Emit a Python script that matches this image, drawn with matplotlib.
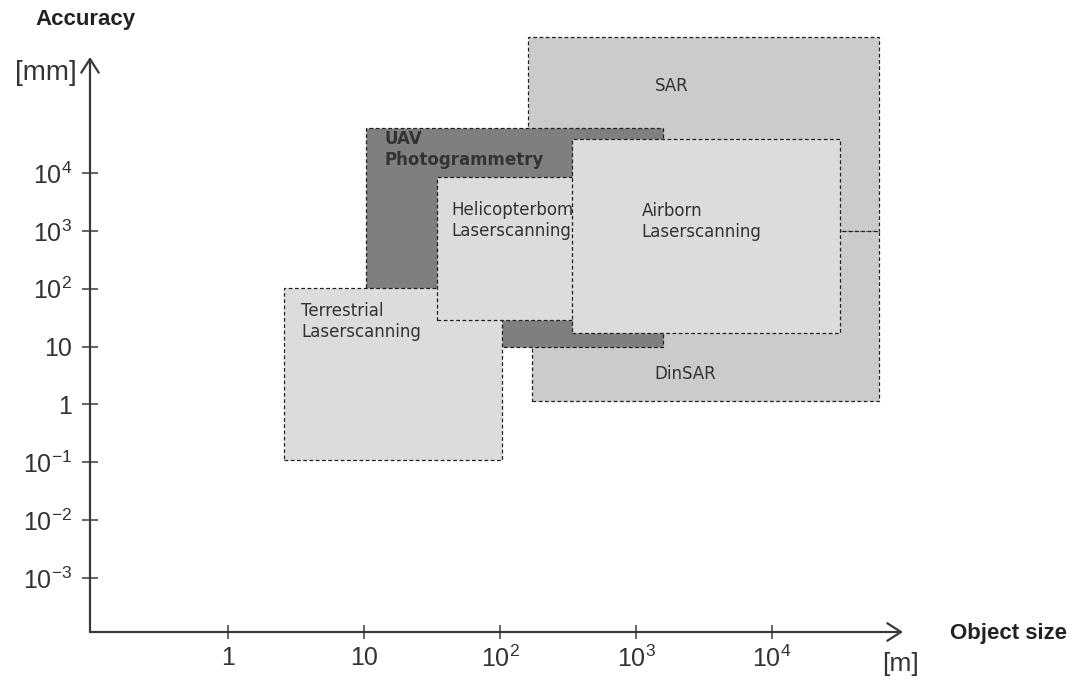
import matplotlib
matplotlib.use("Agg")
import matplotlib.pyplot as plt
from matplotlib.patches import Rectangle

plt.rcParams["font.family"] = ["Liberation Sans", "DejaVu Sans"]
plt.rcParams["mathtext.fontset"] = "custom"
plt.rcParams["mathtext.rm"] = "Liberation Sans"
plt.rcParams["mathtext.it"] = "Liberation Sans"
plt.rcParams["axes.unicode_minus"] = False

# object size [m] ticks and accuracy [mm] ticks
x_ticks = [1, 10, 1e2, 1e3, 1e4]
x_labels = ["1", "10", r"$\mathregular{10^{2}}$", r"$\mathregular{10^{3}}$", r"$\mathregular{10^{4}}$"]
y_ticks = [1e-3, 1e-2, 1e-1, 1, 10, 1e2, 1e3, 1e4]
y_labels = [r"$\mathregular{10^{-3}}$", r"$\mathregular{10^{-2}}$", r"$\mathregular{10^{-1}}$", "1", "10",
            r"$\mathregular{10^{2}}$", r"$\mathregular{10^{3}}$", r"$\mathregular{10^{4}}$"]

# methods: size range [m], accuracy range [mm]
methods = ["SAR", "DinSAR", "UAV Photogrammetry", "Terrestrial Laserscanning",
           "Helicopterborn Laserscanning", "Airborn Laserscanning"]
size_min = [161, 172, 10.4, 2.6, 34.4, 338]
size_max = [61200, 61200, 1580, 104, 388, 31600]
acc_min = [1000, 1.15, 9.8, 0.11, 28.8, 17.1]
acc_max = [2.24e6, 1000, 60100, 102, 8500, 38600]
colors = ["#cbcbcb", "#cbcbcb", "#7f7f7f", "#dcdcdc", "#dcdcdc", "#dcdcdc"]

W, H = 1077, 681
fig = plt.figure(figsize=(W / 100, H / 100), dpi=100)
ax = fig.add_axes([90 / W, (H - 632) / H, (903 - 90) / W, (632 - 57) / H])
ax.set_xscale("log")
ax.set_yscale("log")
ax.set_xlim(10 ** -1.0147, 10 ** 4.963)
ax.set_ylim(10 ** -3.934, 10 ** 6.004)
ax.patch.set_alpha(0)
for s in ax.spines.values():
    s.set_visible(False)

axis_col = "#3a3a3a"
for i in range(len(methods)):
    r = Rectangle((size_min[i], acc_min[i]), size_max[i] - size_min[i], acc_max[i] - acc_min[i],
                  facecolor=colors[i], edgecolor="#222222", linewidth=0.9,
                  linestyle=(0, (3, 2)), zorder=2 + i, clip_on=False)
    ax.add_patch(r)

txt = dict(family=["DejaVu Sans"], fontsize=12, color="#333333")
ax.text(10 ** 3.26, 10 ** 5.5, "SAR", ha="center", va="center", zorder=20, **txt)
ax.text(10 ** 3.36, 10 ** 0.53, "DinSAR", ha="center", va="center", zorder=20, **txt)
ax.text(10 ** 1.15, 10 ** 4.4, "UAV\nPhotogrammetry", ha="left", va="center", zorder=20,
        fontweight="bold", linespacing=1.2, **txt)
ax.text(10 ** 0.537, 10 ** 1.43, "Terrestrial\nLaserscanning", ha="left", va="center", zorder=20,
        linespacing=1.2, **txt)
# sits under the airborne box, so the end of the first word is hidden
ax.text(10 ** 1.64, 10 ** 3.18, "Helicopterbom\nLaserscanning", ha="left", va="center", zorder=6.5,
        linespacing=1.2, **txt)
ax.text(10 ** 3.04, 10 ** 3.16, "Airborn\nLaserscanning", ha="left", va="center", zorder=20,
        linespacing=1.2, **txt)

# axes with arrows
ap = dict(arrowstyle="->,head_length=0.7,head_width=0.45", color=axis_col, lw=1.6,
          shrinkA=0, shrinkB=0, mutation_scale=14)
ax.annotate("", xy=(1, 0), xytext=(0, 0), xycoords="axes fraction", arrowprops=ap, zorder=30)
ax.annotate("", xy=(0, 1), xytext=(0, 0), xycoords="axes fraction", arrowprops=ap, zorder=30)

ax.set_xticks(x_ticks)
ax.set_xticklabels(x_labels)
ax.set_yticks(y_ticks)
ax.set_yticklabels(y_labels)
ax.minorticks_off()
ax.tick_params(axis="x", direction="inout", length=10, width=1.1, color=axis_col,
               labelsize=18, labelcolor="#333333", pad=5)
ax.tick_params(axis="y", direction="inout", length=12, width=1.1, color=axis_col,
               labelsize=18, labelcolor="#333333", pad=7)

fig.text(85 / W, 1 - 20 / H, "Accuracy", ha="center", va="center", fontsize=16,
         fontweight="bold", color="#222222")
fig.text(77 / W, 1 - 73 / H, "[mm]", ha="right", va="center", fontsize=20, color="#333333")
fig.text(950 / W, 1 - 634 / H, "Object size", ha="left", va="center", fontsize=16,
         fontweight="bold", color="#222222")
fig.text(901 / W, 1 - 664 / H, "[m]", ha="center", va="center", fontsize=19, color="#333333")

fig.savefig("out.png", dpi=100)
